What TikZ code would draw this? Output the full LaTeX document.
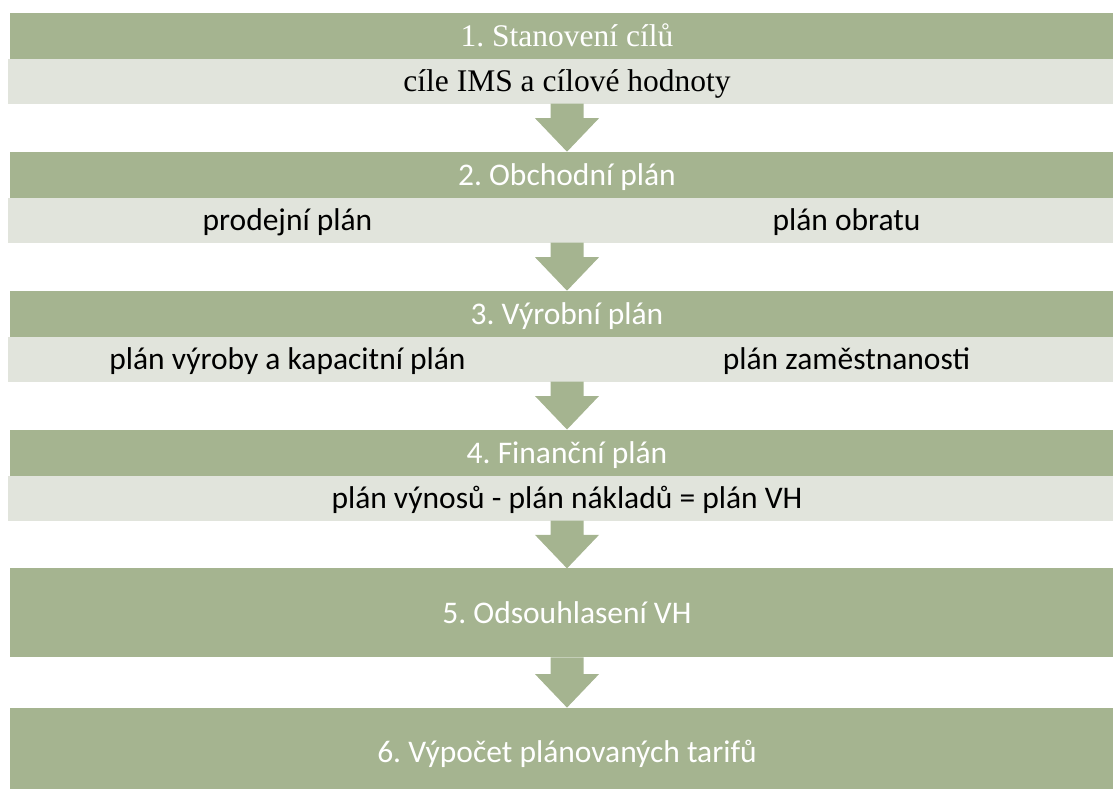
\documentclass[tikz,border=0pt]{standalone}
\usepackage{fontspec}
\setmainfont{Liberation Serif}
\newfontfamily\calibri{Carlito}
\usetikzlibrary{calc}
\definecolor{barGreen}{RGB}{165,180,144}
\definecolor{barLight}{RGB}{225,228,220}

% block arrow from the bottom of one bar to the top of the next
\newcommand\flowarrow[2]{%
  \fill[barGreen] let \p1=(#1.south), \p2=(#2.north) in
    (\x1-16.5pt,\y1) -- (\x1+16.5pt,\y1) -- (\x1+16.5pt,\y2+33.5pt)
    -- (\x1+32pt,\y2+33.5pt) -- (\x1,\y2) -- (\x1-32pt,\y2+33.5pt)
    -- (\x1-16.5pt,\y2+33.5pt) -- cycle;}

\begin{document}
\frenchspacing
\begin{tikzpicture}[x=1pt,y=-1pt,
  txt/.style={inner sep=0pt, outer sep=0pt, text height=20.5pt, text depth=0pt,
    font=\fontsize{31.5}{38}\selectfont},
  greenbar/.style={txt, fill=barGreen, draw=none, minimum width=1114pt,
    minimum height=46.6pt, anchor=north, text=white},
  lightbar/.style={txt, fill=barLight, draw=none, minimum width=1118pt,
    minimum height=44.4pt, anchor=north, text=black},
  bigbar/.style={greenbar, minimum height=89pt},
  sans/.style={font=\fontsize{31.5}{38}\selectfont\calibri},
]
\useasboundingbox (0,0) rectangle (1113,788);
\clip (0,0) rectangle (1113,788);

% 1. goals
\node[greenbar] (g1) at (567,12.7) {1. Stanovení cílů};
\node[lightbar] (l1) at (567,59.3) {cíle IMS a cílové hodnoty};

% 2. business plan
\node[greenbar, sans] (g2) at (567,151.7) {2. Obchodní plán};
\node[lightbar] (l2) at (567,198.3) {};
\node[txt, sans] (l2a) at (287.5,220.5) {prodejní plán};
\node[txt, sans] (l2b) at (846.5,220.5) {plán obratu};

% 3. production plan
\node[greenbar, sans] (g3) at (567,290.7) {3. Výrobní plán};
\node[lightbar] (l3) at (567,337.3) {};
\node[txt, sans] (l3a) at (287.5,359.5) {plán výroby a kapacitní plán};
\node[txt, sans] (l3b) at (846.5,359.5) {plán zaměstnanosti};

% 4. financial plan
\node[greenbar, sans] (g4) at (567,429.5) {4. Finanční plán};
\node[lightbar, sans] (l4) at (567,476.1) {plán výnosů - plán nákladů = plán VH};

% 5. and 6.
\node[bigbar, sans] (g5) at (567,568.4) {5. Odsouhlasení VH};
\node[bigbar, sans] (g6) at (567,707.6) {6. Výpočet plánovaných tarifů};

\flowarrow{l1}{g2}
\flowarrow{l2}{g3}
\flowarrow{l3}{g4}
\flowarrow{l4}{g5}
\flowarrow{g5}{g6}
\end{tikzpicture}
\end{document}
